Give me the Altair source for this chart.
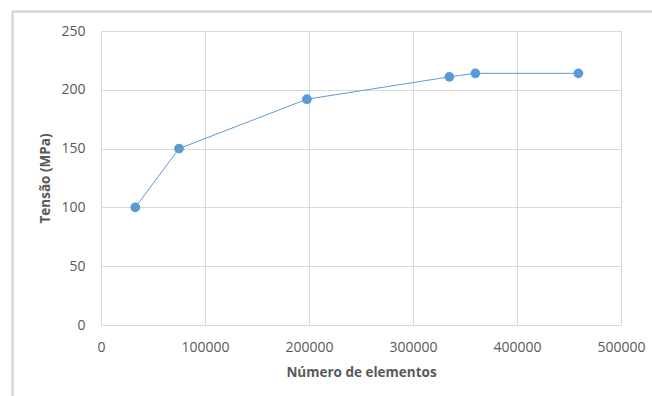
import altair as alt
import pandas as pd

elementos = [33000, 75000, 198000, 335000, 360000, 459000]
tensao = [100, 150, 192, 211, 214, 214]

x_ticks = [0, 100000, 200000, 300000, 400000, 500000]
y_ticks = [0, 50, 100, 150, 200, 250]

df = pd.DataFrame({"elementos": elementos, "tensao": tensao})

FONT = "Open Sans"
TXT = "#595959"
GRID = "#d9d9d9"
BLUE = "#5b9bd5"

x_enc = alt.X(
    "elementos:Q",
    title="Número de elementos",
    scale=alt.Scale(domain=[0, 500000], nice=False),
    axis=alt.Axis(values=x_ticks, format="d", grid=True, gridColor=GRID,
                  domain=False, ticks=False, labelPadding=15, labelFlush=False,
                  labelFont=FONT, labelFontSize=14, labelColor=TXT,
                  titleFont=FONT, titleFontSize=13.5, titleFontWeight="bold",
                  titleColor=TXT, titlePadding=11),
)
y_enc = alt.Y(
    "tensao:Q",
    title="Tensão (MPa)",
    scale=alt.Scale(domain=[0, 250], nice=False),
    axis=alt.Axis(values=y_ticks, format="d", grid=True, gridColor=GRID,
                  domain=False, ticks=False, labelPadding=16, labelFlush=False,
                  labelFont=FONT, labelFontSize=14, labelColor=TXT,
                  titleFont=FONT, titleFontSize=13.5, titleFontWeight="bold",
                  titleColor=TXT, titlePadding=8),
)

line = alt.Chart(df).mark_line(color=BLUE, strokeWidth=1).encode(x=x_enc, y=y_enc)
points = alt.Chart(df).mark_circle(color=BLUE, size=95, opacity=1).encode(x=x_enc, y=y_enc)

frame_top = alt.Chart(df).mark_rule(color=GRID, strokeWidth=1.5).encode(
    x=alt.value(-88.5), x2=alt.value(560), y=alt.value(-19.5))
frame_left = alt.Chart(df).mark_rule(color=GRID, strokeWidth=1.5).encode(
    x=alt.value(-88.5), y=alt.value(-19.5), y2=alt.value(370))

chart = alt.layer(frame_top, frame_left, line, points).properties(
    width=520, height=294,
    autosize=alt.AutoSizeParams(type="none"),
    padding={"left": 101, "top": 31, "right": 31, "bottom": 71},
).configure_view(stroke=None).configure(background="white")

chart.save("out.html", embed_options={"renderer": "svg", "actions": False})
